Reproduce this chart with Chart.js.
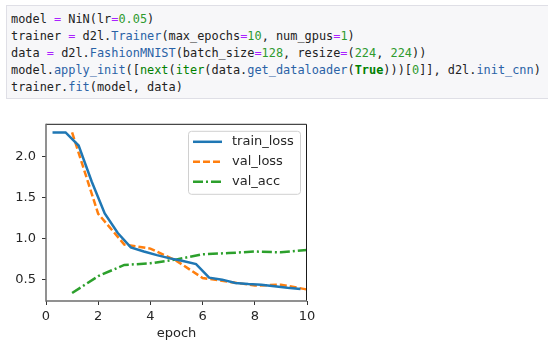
<!DOCTYPE html>
<html>
<head>
<meta charset="utf-8">
<script src="https://cdn.jsdelivr.net/npm/chart.js@4.4.1/dist/chart.umd.min.js"></script>
<style>
  html, body { margin: 0; padding: 0; background: #fff; width: 548px; height: 359px; overflow: hidden; }
  .cell {
    position: absolute; left: 6px; top: 5px; width: 560px; height: 94px;
    background: #f7f7f9; border: 1px solid #dfdfe6; box-sizing: border-box;
  }
  pre {
    position: absolute; left: 11px; top: 11px; margin: 0;
    font-family: "DejaVu Sans Mono", monospace; font-size: 11.9px; line-height: 17px;
    color: #222;
  }
  .o { color: #aa22ff; }
  .n { color: #2e9a2e; }
  .p { color: #2a62a6; }
  .b { color: #008000; }
  .k { color: #008000; font-weight: bold; }
  #wrap { position: absolute; left: 0; top: 110px; width: 330px; height: 249px; }
</style>
</head>
<body>
<div class="cell"></div>
<pre>model <span class="o">=</span> NiN(lr<span class="o">=</span><span class="n">0.05</span>)
trainer <span class="o">=</span> d2l.<span class="p">Trainer</span>(max_epochs<span class="o">=</span><span class="n">10</span>, num_gpus<span class="o">=</span><span class="n">1</span>)
data <span class="o">=</span> d2l.<span class="p">FashionMNIST</span>(batch_size<span class="o">=</span><span class="n">128</span>, resize<span class="o">=</span>(<span class="n">224</span>, <span class="n">224</span>))
model.<span class="p">apply_init</span>([<span class="b">next</span>(<span class="b">iter</span>(data.<span class="p">get_dataloader</span>(<span class="k">True</span>)))[<span class="n">0</span>]], d2l.<span class="p">init_cnn</span>)
trainer.<span class="p">fit</span>(model, data)</pre>
<div id="wrap"><canvas id="myChart" width="330" height="249"></canvas></div>
<script>
// values
const trainEpochs = [0.25, 0.75, 1.25, 1.75, 2.25, 2.75, 3.25, 3.75, 4.25, 4.75,
                     5.25, 5.75, 6.25, 6.75, 7.25, 7.75, 8.25, 8.75, 9.25, 9.75];
const trainLoss = [2.30, 2.30, 2.14, 1.70, 1.31, 1.07, 0.895, 0.845, 0.80, 0.76,
                   0.727, 0.69, 0.525, 0.50, 0.46, 0.446, 0.437, 0.418, 0.40, 0.387];
const valEpochs = [1, 2, 3, 4, 5, 6, 7, 8, 9, 10];
const valLoss = [2.30, 1.305, 0.93, 0.88, 0.73, 0.52, 0.475, 0.428, 0.438, 0.38];
const valAcc = [0.336, 0.543, 0.68, 0.70, 0.748, 0.81, 0.825, 0.844, 0.834, 0.863];
const xTicks = [0, 2, 4, 6, 8, 10];
const yTicks = [0.5, 1.0, 1.5, 2.0];

const font = { family: 'DejaVu Sans', size: 13 };
const textColor = '#262626';

function pts(xs, ys) {
  return ys.map((y, i) => ({ x: xs[i], y: y }));
}

// matplotlib style frame + legend inside axes
const framePlugin = {
  id: 'frame',
  afterDatasetsDraw(chart) {
    const { ctx, chartArea: a } = chart;
    ctx.save();
    ctx.lineWidth = 1;
    ctx.strokeStyle = '#1a1a1a';
    ctx.beginPath();
    ctx.moveTo(a.left, a.top + 0.5);
    ctx.lineTo(a.right - 0.5, a.top + 0.5);
    ctx.lineTo(a.right - 0.5, a.bottom);
    ctx.stroke();
    ctx.strokeStyle = '#6e6e6e';
    ctx.lineWidth = 1.5;
    ctx.beginPath();
    ctx.moveTo(a.left, a.top);
    ctx.lineTo(a.left, a.bottom);
    ctx.lineTo(a.right, a.bottom);
    ctx.stroke();

    // legend
    const w = 112, h = 63;
    const x0 = a.right - 7 - w, y0 = a.top + 7;
    ctx.beginPath();
    ctx.roundRect(x0 + 0.5, y0 + 0.5, w, h, 3);
    ctx.fillStyle = 'rgba(255,255,255,0.8)';
    ctx.fill();
    ctx.strokeStyle = '#d0d0d0';
    ctx.lineWidth = 1;
    ctx.stroke();
    ctx.font = '13px "DejaVu Sans"';
    ctx.textBaseline = 'middle';
    chart.data.datasets.forEach((ds, i) => {
      const y = y0 + 11 + i * 20;
      ctx.beginPath();
      ctx.setLineDash(ds.borderDash || []);
      ctx.strokeStyle = ds.borderColor;
      ctx.lineWidth = ds.borderWidth;
      ctx.moveTo(x0 + 5, y);
      ctx.lineTo(x0 + 34, y);
      ctx.stroke();
      ctx.setLineDash([]);
      ctx.fillStyle = textColor;
      ctx.fillText(ds.label, x0 + 44, y);
    });
    ctx.restore();
  }
};

const ctx = document.getElementById('myChart').getContext('2d');
const myChart = new Chart(ctx, {
  type: 'line',
  data: {
    datasets: [
      { label: 'train_loss', data: pts(trainEpochs, trainLoss), borderColor: '#1f77b4', borderWidth: 2.5 },
      { label: 'val_loss', data: pts(valEpochs, valLoss), borderColor: '#ff7f0e', borderWidth: 2.5, borderDash: [7, 3] },
      { label: 'val_acc', data: pts(valEpochs, valAcc), borderColor: '#2ca02c', borderWidth: 2.5, borderDash: [10, 3, 2, 3] }
    ]
  },
  options: {
    responsive: false,
    animation: false,
    devicePixelRatio: 1,
    elements: { point: { radius: 0 }, line: { tension: 0, fill: false } },
    layout: { padding: { top: 6, right: 23, left: 0, bottom: 0 } },
    plugins: { legend: { display: false }, tooltip: { enabled: false } },
    scales: {
      x: {
        type: 'linear',
        min: 0, max: 10,
        afterFit: (s) => { s.height = 58; },
        afterBuildTicks: (s) => { s.ticks = xTicks.map(v => ({ value: v })); },
        ticks: { font, color: textColor, padding: 4, maxRotation: 0, callback: (v) => String(v) },
        grid: { drawOnChartArea: false, drawTicks: true, tickLength: 4, color: '#333' },
        border: { display: false },
        title: { display: true, text: 'epoch', font, color: textColor, padding: { top: 0, bottom: 18 } }
      },
      y: {
        type: 'linear',
        min: 0.239, max: 2.406,
        afterFit: (s) => { s.width = 46; },
        afterBuildTicks: (s) => { s.ticks = yTicks.map(v => ({ value: v })); },
        ticks: { font, color: textColor, padding: 6, callback: (v) => v.toFixed(1) },
        grid: { drawOnChartArea: false, drawTicks: true, tickLength: 4, color: '#333' },
        border: { display: false }
      }
    }
  },
  plugins: [framePlugin]
});
</script>
</body>
</html>
